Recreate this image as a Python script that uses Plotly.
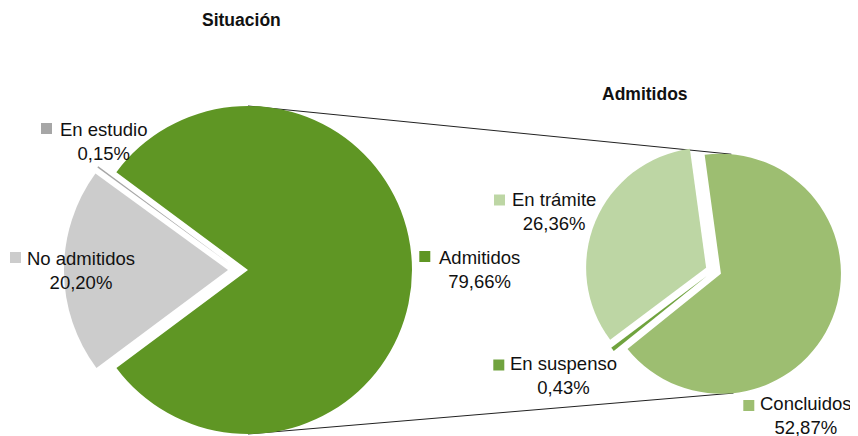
import math
import plotly.graph_objects as go

# ---------------- data ----------------
sit_title = "Situación"
sit_labels = ["Admitidos", "No admitidos", "En estudio"]
sit_values = [79.66, 20.20, 0.15]

adm_title = "Admitidos"
adm_labels = ["En trámite", "En suspenso", "Concluidos"]
adm_values = [26.36, 0.43, 52.87]

# ---------------- style / layout ----------------
W, H = 858, 436
OFF = 8.0  # page body margin: screen px -> figure px
FONT = "Liberation Sans, Arial, sans-serif"
TXT = "#111111"

sit_colors = ["#5f9624", "#cccccc", "#a6a6a6"]
adm_colors = ["#bdd6a4", "#70a33e", "#9dbe71"]

# pie geometry in screen pixels: centre of unexploded pie, radius, explosion distance,
# compass angle (clockwise from 12 o'clock) where the first slice starts
LEFT = dict(cx=238.0, cy=270.0, r=164.0, d=10.0, start=-53.4, direction="clockwise")
RIGHT = dict(cx=713.5, cy=270.8, r=120.0, d=8.0, start=-7.8, direction="counterclockwise")

# label placement (text centre x, baselines of the two lines, legend square top-left)
sit_label_pos = {
    "Admitidos": dict(tx=479.5, b1=263.3, b2=286.7, sx=419.3, sy=251.0),
    "No admitidos": dict(tx=81.2, b1=265.7, b2=286.7, sx=10.0, sy=252.0),
    "En estudio": dict(tx=103.3, b1=135.7, b2=158.3, sx=41.0, sy=123.0),
}
adm_label_pos = {
    "En trámite": dict(tx=554.2, b1=206.7, b2=229.0, sx=494.0, sy=194.5),
    "En suspenso": dict(tx=563.0, b1=370.0, b2=393.3, sx=493.3, sy=359.5),
    "Concluidos": dict(tx=806.3, b1=411.0, b2=432.0, sx=743.3, sy=400.0),
}
SQ = 11.0
LABEL_SIZE = 18.5
TITLE_SIZE = 17.5


def px(x):
    return (x - OFF) / W


def py(y):
    return 1 - (y - OFF) / H


def fmt(v):
    return f"{v:.2f}".replace(".", ",") + "%"


def slice_centers(values, g):
    """Exploded centre of every slice, computed from the values."""
    total = sum(values)
    sign = 1 if g["direction"] == "clockwise" else -1
    cum = 0.0
    out = []
    for v in values:
        span = 360.0 * v / total
        mid = math.radians(g["start"] + sign * (cum + span / 2))
        cum += span
        out.append((g["cx"] + g["d"] * math.sin(mid), g["cy"] - g["d"] * math.cos(mid)))
    return out


def plotly_rotation(values, g):
    # plotly: for counterclockwise pies the first slice *ends* at `rotation`
    if g["direction"] == "clockwise":
        return g["start"]
    rot = g["start"] - 360.0 * values[0] / sum(values)
    return ((rot + 180) % 360) - 180


fig = go.Figure()


def add_pie(labels, values, colors, g):
    centers = slice_centers(values, g)
    r = g["r"]
    rot = plotly_rotation(values, g)
    for i, (cx, cy) in enumerate(centers):
        cols = ["rgba(0,0,0,0)"] * len(values)
        cols[i] = colors[i]
        fig.add_trace(go.Pie(
            labels=labels, values=values, sort=False,
            direction=g["direction"], rotation=rot,
            marker=dict(colors=cols, line=dict(width=0)),
            textinfo="none", hoverinfo="skip", showlegend=False,
            domain=dict(x=[px(cx - r), px(cx + r)], y=[py(cy + r), py(cy - r)]),
        ))
    return centers


sit_centers = add_pie(sit_labels, sit_values, sit_colors, LEFT)
adm_centers = add_pie(adm_labels, adm_values, adm_colors, RIGHT)

annotations = []
shapes = []

# titles
annotations.append(dict(text=f"<b>{sit_title}</b>", x=px(242), y=py(20), xref="paper", yref="paper",
                        showarrow=False, xanchor="center", yanchor="middle",
                        font=dict(family=FONT, size=TITLE_SIZE, color=TXT)))
annotations.append(dict(text=f"<b>{adm_title}</b>", x=px(645), y=py(94), xref="paper", yref="paper",
                        showarrow=False, xanchor="center", yanchor="middle",
                        font=dict(family=FONT, size=TITLE_SIZE, color=TXT)))


def add_labels(labels, values, colors, pos):
    for lab, val, col in zip(labels, values, colors):
        p = pos[lab]
        yc = (p["b1"] + p["b2"]) / 2 - 6
        annotations.append(dict(text=f"{lab}<br>{fmt(val)}", x=px(p["tx"]), y=py(yc),
                                xref="paper", yref="paper", showarrow=False, align="center",
                                xanchor="center", yanchor="middle",
                                font=dict(family=FONT, size=LABEL_SIZE, color=TXT)))
        shapes.append(dict(type="rect", xref="paper", yref="paper",
                           x0=px(p["sx"]), x1=px(p["sx"] + SQ), y0=py(p["sy"] + SQ), y1=py(p["sy"]),
                           fillcolor=col, line=dict(width=0)))


add_labels(sit_labels, sit_values, sit_colors, sit_label_pos)
add_labels(adm_labels, adm_values, adm_colors, adm_label_pos)

# connector lines: from the exploded "Admitidos" slice to the right pie
gx, gy = sit_centers[0]
cx_c, cy_c = adm_centers[2]
rl, rr = LEFT["r"], RIGHT["r"]
a_top, a_bot = math.radians(5), math.radians(174)
lines = [
    ((gx, gy - rl), (cx_c + rr * math.sin(a_top), cy_c - rr * math.cos(a_top))),
    ((gx, gy + rl), (cx_c + rr * math.sin(a_bot), cy_c - rr * math.cos(a_bot))),
]
for (x0, y0), (x1, y1) in lines:
    shapes.append(dict(type="line", xref="paper", yref="paper", x0=px(x0), y0=py(y0),
                       x1=px(x1), y1=py(y1), line=dict(color="#222222", width=1), layer="below"))

fig.update_layout(
    width=W, height=H, margin=dict(l=0, r=0, t=0, b=0),
    paper_bgcolor="white", plot_bgcolor="white",
    annotations=annotations, shapes=shapes,
    font=dict(family=FONT, color=TXT),
)

fig.write_html("out.html")
